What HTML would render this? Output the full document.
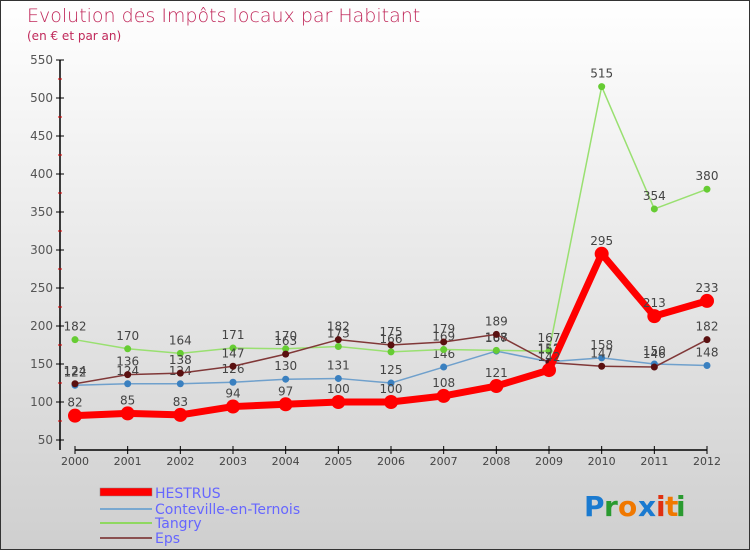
<!DOCTYPE html>
<html><head><meta charset="utf-8"><style>
body{margin:0}
#c{width:750px;height:550px;position:relative;overflow:hidden;font-family:"DejaVu Sans","Liberation Sans",sans-serif}
</style></head><body>
<div id="c">
<svg id="s" width="750" height="550" xmlns="http://www.w3.org/2000/svg">
<defs><linearGradient id="bg" x1="0" y1="0" x2="0" y2="1"><stop offset="0" stop-color="#ffffff"/><stop offset="1" stop-color="#cfcfcf"/></linearGradient></defs>
<rect x="0.5" y="0.5" width="749" height="549" fill="url(#bg)" stroke="#333"/>
<text x="27" y="22" font-size="19" fill="#c0285a" font-weight="normal" style="font-family:'DejaVu Sans',sans-serif;font-weight:200">Evolution des Impôts locaux par Habitant</text>
<text x="27" y="40" font-size="12" fill="#c0285a">(en € et par an)</text>
<g id="axes"></g><g id="series"></g>
<g>
<rect x="100" y="488" width="52" height="8" fill="#ff0000" stroke="#888" stroke-width="0.5"/>
<text x="155" y="498" font-size="14" fill="#6666ff">HESTRUS</text>
<line x1="100" y1="509" x2="152" y2="509" stroke="#79a8d0" stroke-width="2"/>
<text x="155" y="514" font-size="14" fill="#6666ff">Conteville-en-Ternois</text>
<line x1="100" y1="523" x2="152" y2="523" stroke="#8fd860" stroke-width="2"/>
<text x="155" y="528" font-size="14" fill="#6666ff">Tangry</text>
<line x1="100" y1="538" x2="152" y2="538" stroke="#8a5050" stroke-width="2"/>
<text x="155" y="543" font-size="14" fill="#6666ff">Eps</text>
</g>
<g font-size="28" font-weight="bold">
<text x="584" y="516" fill="#1a7ad0">P</text><text x="604" y="516" fill="#2a9a30">r</text><text x="618" y="516" fill="#f07800">o</text><text x="638" y="516" fill="#1a7ad0">x</text><text x="656" y="516" fill="#e03010">i</text><text x="665" y="516" fill="#f07800">t</text><text x="676" y="516" fill="#2a9a30">i</text>
</g>
</svg></div>
<script>
const years=["2000","2001","2002","2003","2004","2005","2006","2007","2008","2009","2010","2011","2012"];
const yTicks=[50,100,150,200,250,300,350,400,450,500,550];
const hestrus=[82,85,83,94,97,100,100,108,121,142,295,213,233];
const conteville=[122,124,124,126,130,131,125,146,167,153,158,150,148];
const tangry=[182,170,164,171,170,173,166,169,168,167,515,354,380];
const eps=[124,136,138,147,163,182,175,179,189,152,147,146,182];
const NS="http://www.w3.org/2000/svg";
const X=i=>75+i*(707-75)/12;
const Y=v=>440-(v-50)*380/500;
function mk(t,a,p){const e=document.createElementNS(NS,t);for(const k in a)e.setAttribute(k,a[k]);p.appendChild(e);return e;}
const ax=document.getElementById('axes');
let l=mk('line',{x1:60,y1:60,x2:60,y2:450,stroke:'#000','stroke-width':1.5},ax);

l=mk('line',{x1:75,y1:450,x2:707,y2:450,stroke:'#000','stroke-width':1.5},ax);

yTicks.forEach((v,i)=>{mk('line',{x1:56,y1:Y(v),x2:64,y2:Y(v),stroke:'#000'},ax);
if(i<yTicks.length-1)mk('line',{x1:58,y1:Y(v+25),x2:62,y2:Y(v+25),stroke:'#d00'},ax);
const t=mk('text',{x:53,y:Y(v)+4,'text-anchor':'end','font-size':12,fill:'#555'},ax);t.textContent=v;
});
years.forEach((y,i)=>{mk('line',{x1:X(i),y1:446,x2:X(i),y2:454,stroke:'#000'},ax);
const t=mk('text',{x:X(i),y:465,'text-anchor':'middle','font-size':11,fill:'#444'},ax);t.textContent=y;
});
const sg=document.getElementById('series');
function series(name,d,col,w,r,dot,lab){
const g=mk('g',{},sg);
mk('polyline',{points:d.map((v,i)=>X(i)+','+Y(v)).join(' '),fill:'none',stroke:col,'stroke-width':w,'stroke-linejoin':'round'},g);
d.forEach((v,i)=>{const c=mk('circle',{cx:X(i),cy:Y(v),r:r,fill:dot},g);

if(lab){const t=mk('text',{x:X(i),y:Y(v)-9,'text-anchor':'middle','font-size':12,fill:'#444'},g);t.textContent=v;
}});}
series('conteville',conteville,'#6fa0cc',1.5,3.5,'#3a80c0',true);
series('tangry',tangry,'#99e070',1.5,3.5,'#66cc33',true);
series('eps',eps,'#803838',1.5,3.5,'#5a1010',true);
series('hestrus',hestrus,'#ff0000',7,7,'#ff0000',true);
</script>
</body></html>
